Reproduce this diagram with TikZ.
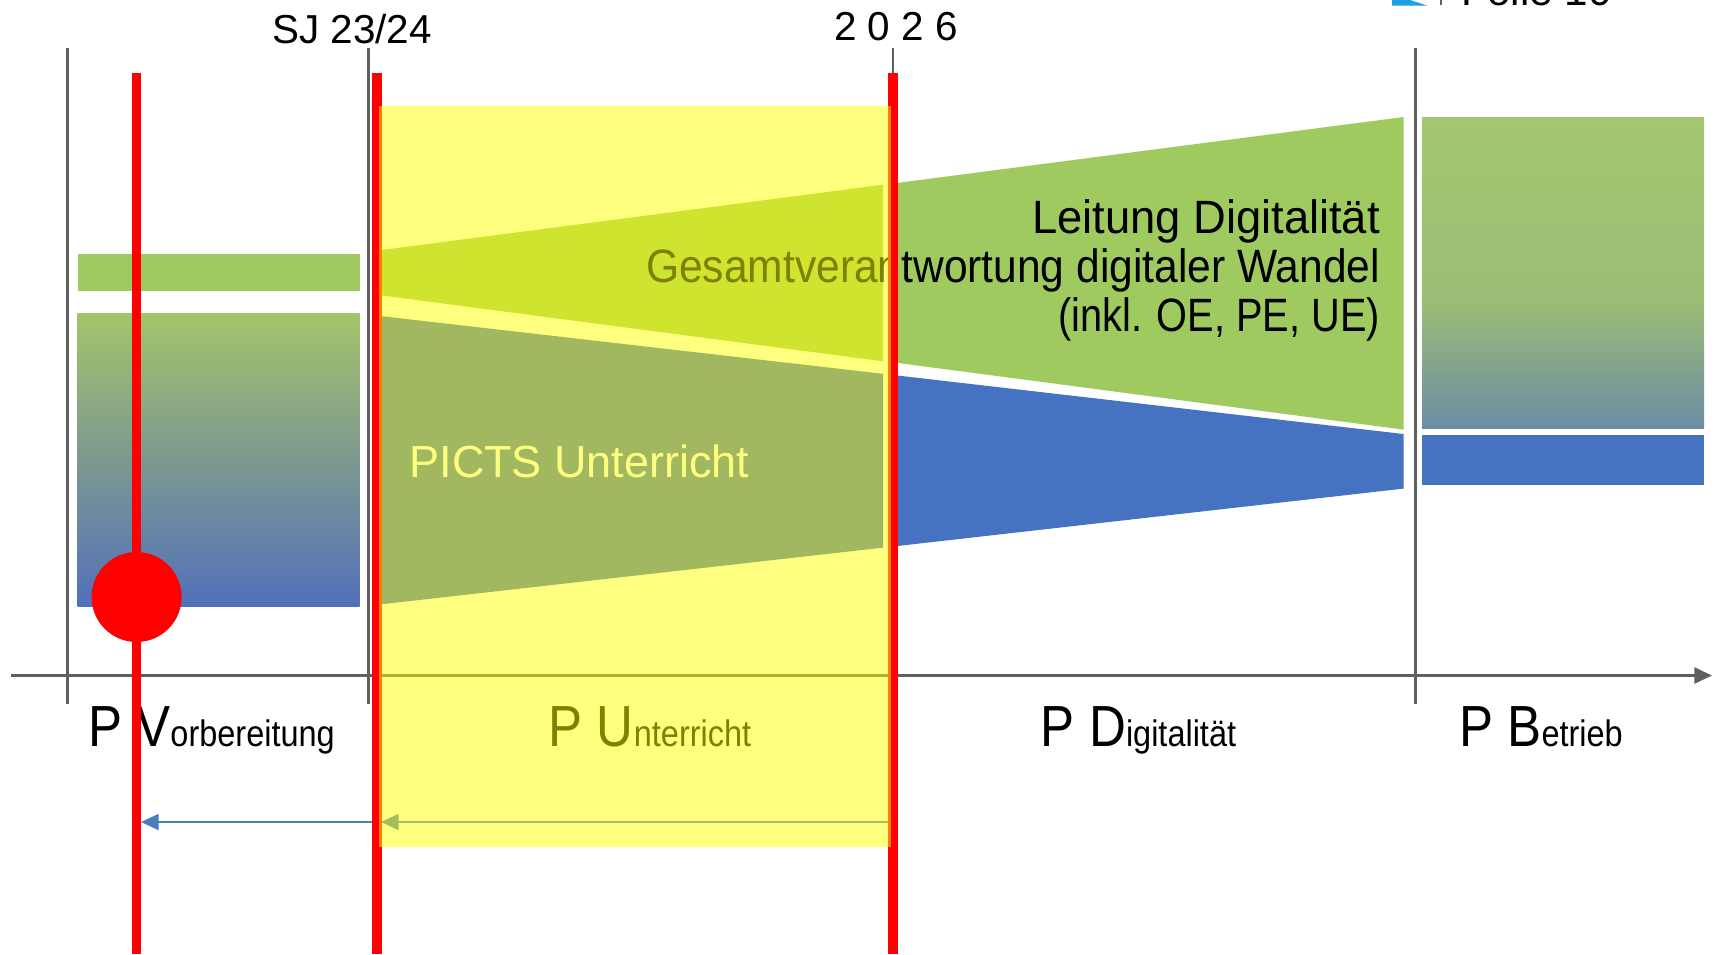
\documentclass[tikz,border=0pt]{standalone}
\usepackage{fontspec}
\usepackage{graphicx}
\setmainfont{Liberation Sans}
\usetikzlibrary{arrows.meta}
\definecolor{grn}{RGB}{159,202,96}
\definecolor{blu}{RGB}{70,114,194}
\definecolor{axisgray}{RGB}{95,95,95}
\definecolor{ylw}{RGB}{255,255,0}
\definecolor{gtop}{RGB}{163,197,106}
\definecolor{gmid}{RGB}{124,153,143}
\definecolor{gbot}{RGB}{82,112,186}
\definecolor{rtop}{RGB}{163,199,112}
\definecolor{rmid}{RGB}{154,188,118}
\definecolor{rbot}{RGB}{107,140,165}
\definecolor{iconblue}{RGB}{27,161,226}
\definecolor{arrowblue}{RGB}{74,126,187}
\pgfdeclareverticalshading{rightgrad}{100bp}{color(0bp)=(rbot); color(25bp)=(rbot); color(45bp)=(rmid); color(75bp)=(rtop); color(100bp)=(rtop)}
\newcommand\phlab[2]{\scalebox{0.88}[1]{{\fontsize{16.5}{16.5}\selectfont #1}{\fontsize{10.5}{10.5}\selectfont #2}}}
\begin{document}
\begin{tikzpicture}[x=0.1mm,y=-0.1mm,
  gridline/.style={draw=axisgray,line width=0.75pt},
  redline/.style={draw=red,line width=2.6pt},
  lbl/.style={inner sep=0,font=\fontsize{13.3}{14}\selectfont},
  toplbl/.style={inner sep=0,anchor=base,font=\fontsize{11.5}{12}\selectfont},
  phase/.style={inner sep=0,anchor=base},
  backarrow/.style={draw=arrowblue,line width=0.7pt,-{Triangle[length=5pt,width=4.5pt]}}]
\useasboundingbox (0,0) rectangle (1714,954);
% cut-off slide header
\fill[iconblue] (1392,0) -- (1410,0) -- (1427,5.5) -- (1392,5.5) -- cycle;
\fill[axisgray] (1440,0) rectangle (1442,5);
\node[anchor=base west,inner sep=0,font=\fontsize{12}{12}\selectfont] (folie) at (1461,5.5) {Folie 10};
% phase separators
\foreach \x in {67.8,368.4,893,1415.5} \draw[gridline] (\x,48) -- (\x,704);
% time axis
\coordinate (axL) at (11,675.5);
\coordinate (axR) at (1712,675.5);
\draw[gridline,line width=0.85pt,-{Triangle[length=5pt,width=4.5pt]}] (axL) -- (axR);
% left panel
\fill[grn] (77.6,253.6) rectangle (359.6,290.8);
\shade[top color=gtop,bottom color=gbot,middle color=gmid] (77.6,313.7) rectangle (359.6,606.7);
% trapezoids
\fill[grn] (379.3,250.3) -- (883.2,184.7) -- (883.2,361.3) -- (379.3,295.1) -- cycle;
\fill[grn] (897.4,182.9) -- (1403.5,117) -- (1403.5,429.6) -- (897.4,362.9) -- cycle;
\fill[blu] (379.3,315.9) -- (883.2,373.8) -- (883.2,547.6) -- (379.3,604.5) -- cycle;
\fill[blu] (897.4,375.5) -- (1403.5,434) -- (1403.5,488.6) -- (897.4,546) -- cycle;
% right panel
\shade[shading=rightgrad] (1422,117) rectangle (1704,428.5);
\fill[blu] (1422,435) rectangle (1704,485.3);
% texts
\node[lbl,anchor=base east] (lead) at (1380.6,233) {\scalebox{0.97}[1]{Leitung Digitalität}};
\node[lbl,anchor=base east] (gesamt) at (1380.6,282) {\scalebox{0.91}[1]{Gesamtverantwortung digitaler Wandel}};
\node[lbl,anchor=base east] (inkl) at (1380.6,331) {\scalebox{0.85}[1]{(inkl. OE, PE, UE)}};
\node[lbl,anchor=base west,text=white,font=\fontsize{12.8}{14}\selectfont] (picts) at (408.8,477.7) {PICTS Unterricht};
% phase labels
\node[phase] (pv) at (211.5,746.6) {\phlab{P V}{orbereitung}};
\node[phase] (pu) at (650,746.6) {\phlab{P U}{nterricht}};
\node[phase] (pd) at (1138.5,746.6) {\phlab{P D}{igitalität}};
\node[phase] (pb) at (1541,746.6) {\phlab{P B}{etrieb}};
% top labels
\node[toplbl] (sj) at (352,43.7) {SJ 23/24};
\node[toplbl] (y26) at (896,40.4) {2 0 2 6};
% arrows
\coordinate (a1) at (890,822);
\coordinate (a2) at (381,822);
\coordinate (a3) at (141,822);
\draw[backarrow] (a1) -- (a2);
\draw[backarrow] (a2) -- (a3);
% red markers
\draw[redline] (136.6,73) -- (136.6,954);
\draw[redline] (377,73) -- (377,954);
\draw[redline] (893,73) -- (893,954);
\node[circle,fill=red,minimum size=9mm,inner sep=0] (dot) at (136.6,597) {};
% yellow period
\fill[ylw,fill opacity=0.5] (379,106) rectangle (891,847);
\end{tikzpicture}
\end{document}
